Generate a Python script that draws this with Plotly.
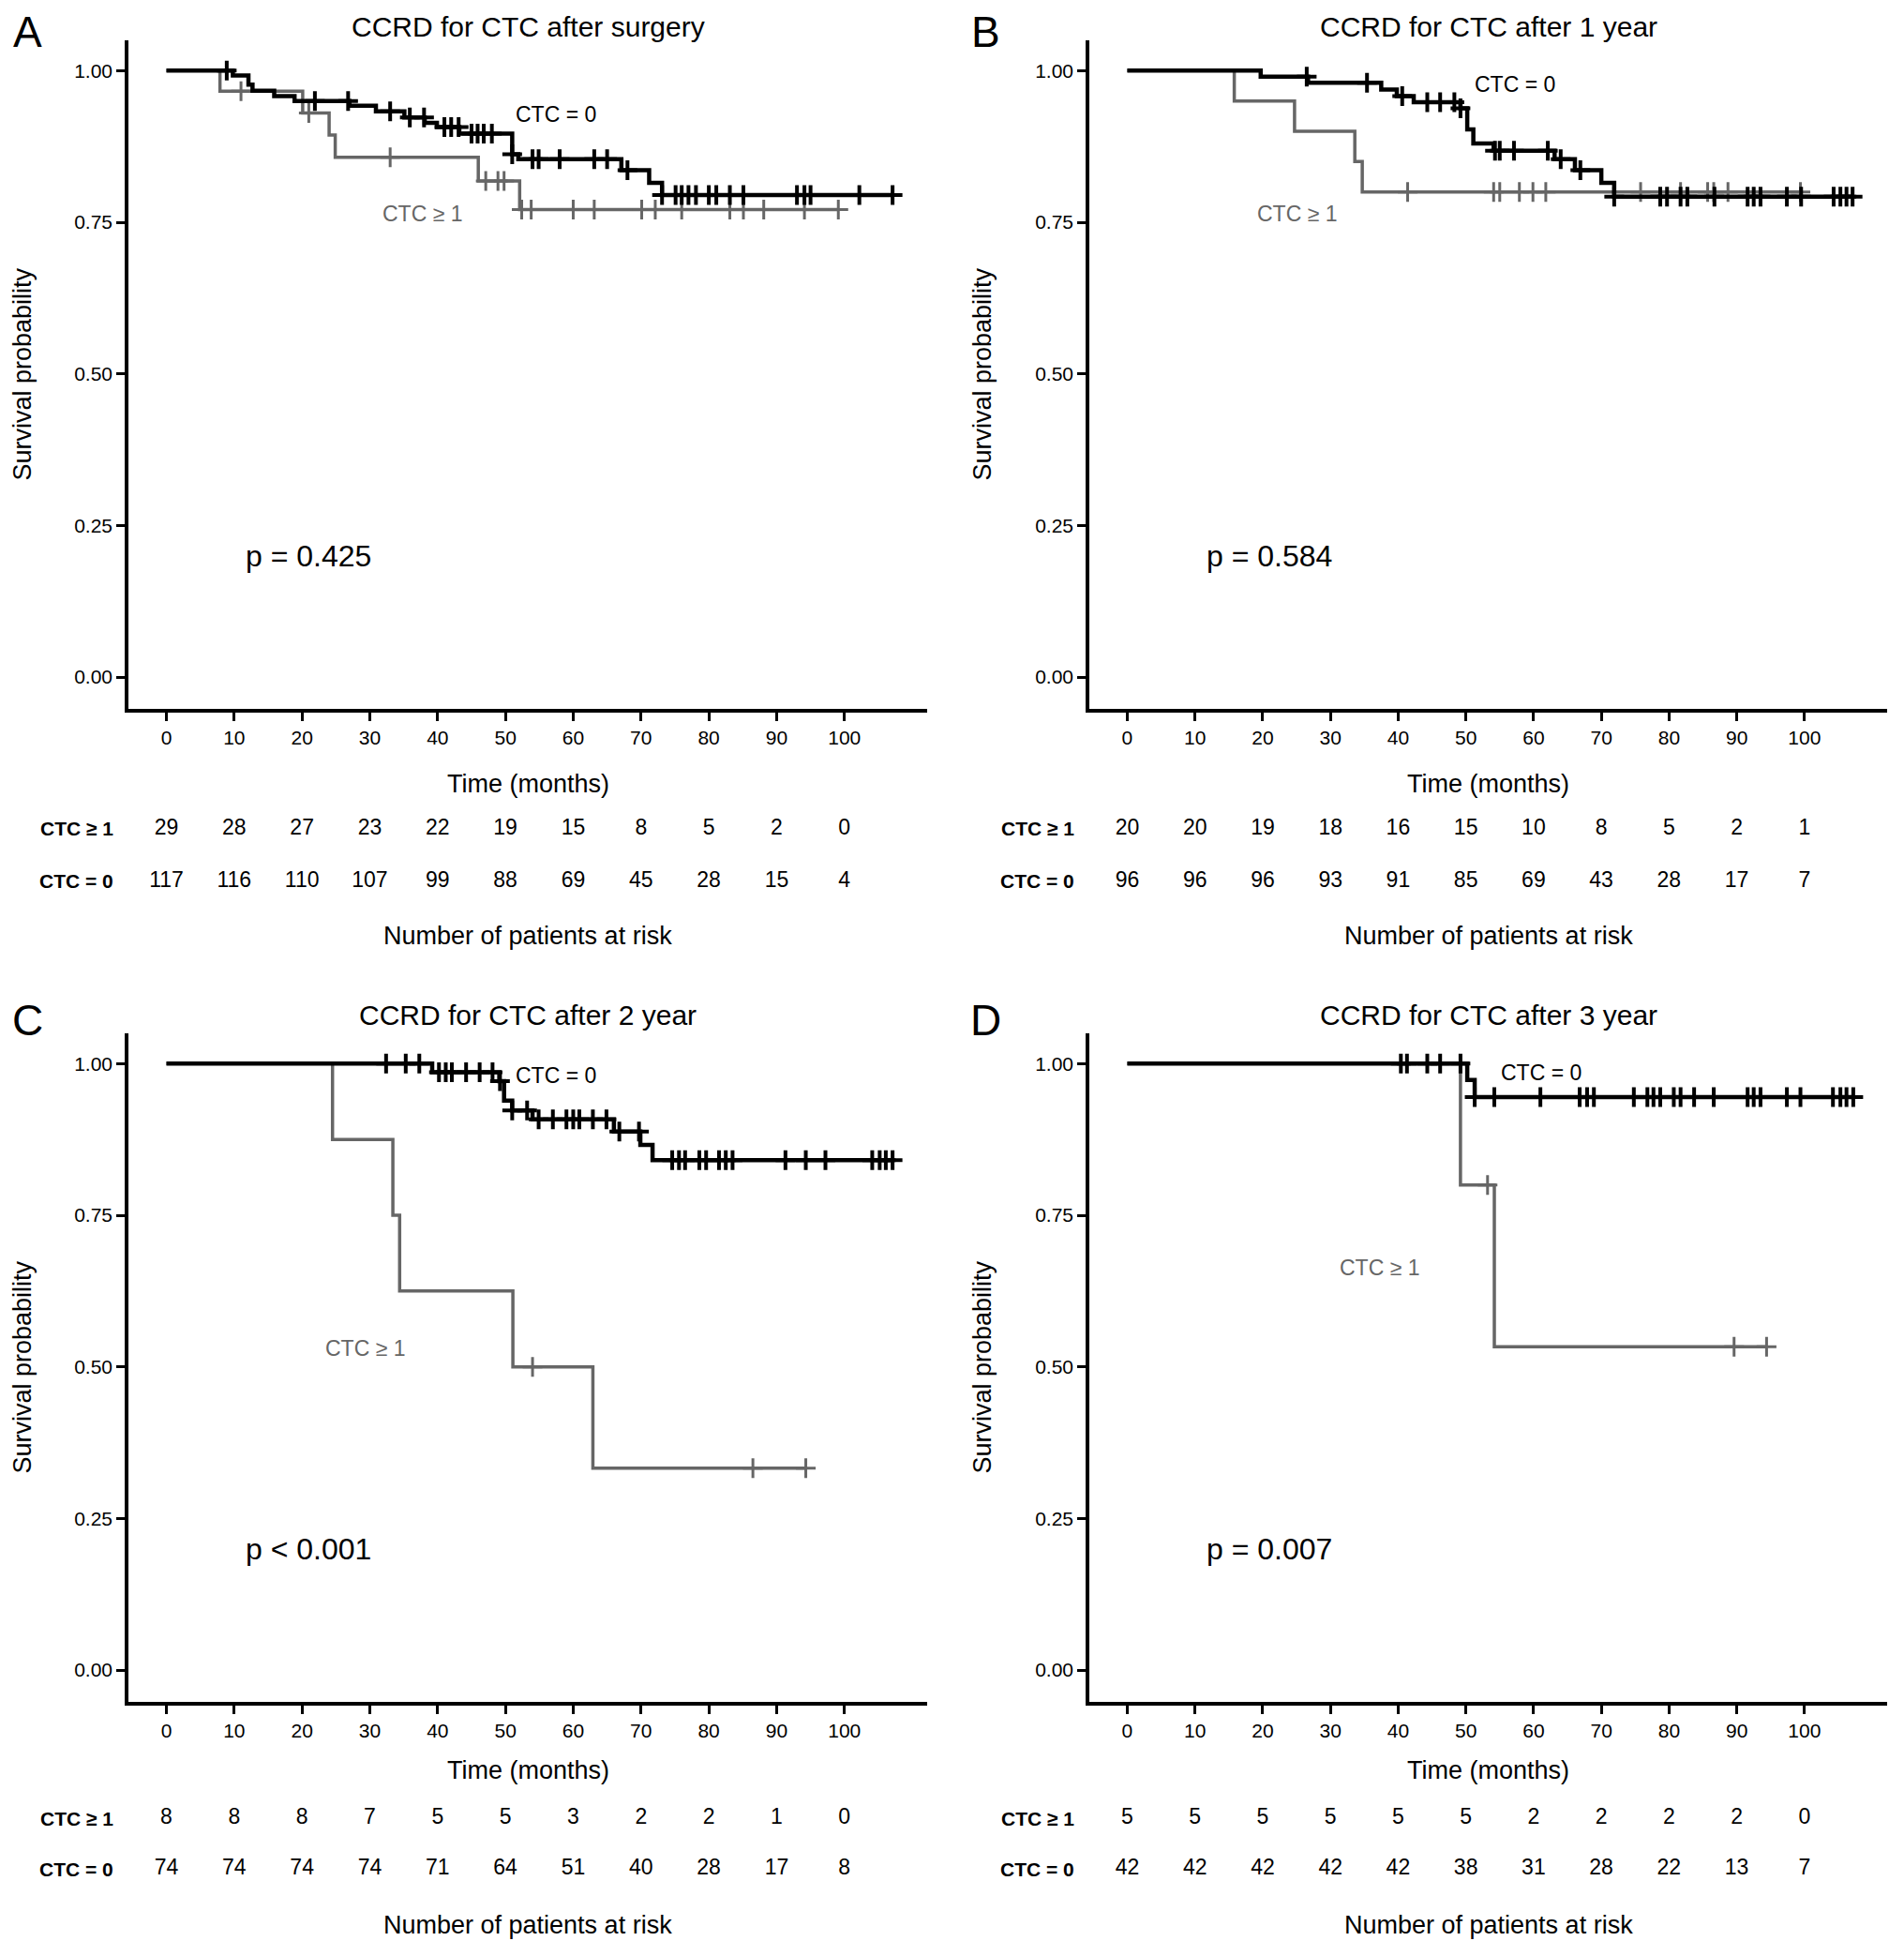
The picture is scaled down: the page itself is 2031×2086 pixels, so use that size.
import plotly.graph_objects as go

# ---- data ----------------------------------------------------------------
ticks = [0, 10, 20, 30, 40, 50, 60, 70, 80, 90, 100]

# panel A : after surgery
a0_evt_t = [9.8, 12.1, 12.7, 15.9, 18.9, 27.0, 30.9, 35.1, 38.1, 39.9, 43.2, 51.0, 51.9, 67.1, 71.2, 73.1]
a0_evt_s = [0.992, 0.977, 0.967, 0.958, 0.950, 0.942, 0.933, 0.923, 0.914, 0.907, 0.896, 0.862, 0.854, 0.836, 0.815, 0.795]
a0_cens = [8.9, 21.9, 26.8, 33.0, 35.9, 38.0, 41.0, 42.0, 43.1, 45.0, 45.9, 46.8, 48.0, 51.0, 54.0, 54.9,
           58.0, 63.1, 65.0, 68.0, 73.1, 75.1, 76.0, 77.0, 78.1, 80.0, 81.1, 83.1, 85.1, 93.0, 94.1, 95.0,
           102.2, 107.1]
a1_evt_t = [7.9, 20.1, 24.0, 24.9, 46.0, 52.1]
a1_evt_s = [0.966, 0.930, 0.894, 0.857, 0.818, 0.771]
a1_cens = [11.0, 21.0, 33.0, 47.1, 48.9, 49.8, 52.4, 53.8, 60.0, 63.1, 70.1, 72.1, 76.0, 83.1, 85.1,
           88.1, 94.1, 99.1]
a_risk1 = [29, 28, 27, 23, 22, 19, 15, 8, 5, 2, 0]
a_risk0 = [117, 116, 110, 107, 99, 88, 69, 45, 28, 15, 4]

# panel B : after 1 year
b0_evt_t = [19.7, 26.7, 37.5, 39.8, 42.3, 49.2, 50.2, 51.1, 54.1, 63.1, 66.1, 70.0, 71.9]
b0_evt_s = [0.990, 0.980, 0.969, 0.958, 0.948, 0.938, 0.903, 0.880, 0.868, 0.854, 0.836, 0.815, 0.792]
b0_cens = [26.5, 35.4, 40.6, 44.3, 46.2, 48.3, 49.2, 54.3, 55.0, 57.1, 62.1, 64.0, 66.9, 71.9, 78.7,
           79.7, 81.7, 82.7, 86.7, 91.6, 92.5, 93.5, 97.4, 99.5, 104.3, 105.3, 106.2, 107.1]
b1_evt_t = [15.8, 24.7, 33.6, 34.7]
b1_evt_s = [0.95, 0.90, 0.85, 0.80]
b1_cens = [41.4, 54.1, 55.0, 57.9, 59.9, 61.8, 75.8, 81.7, 85.7, 86.6, 88.7, 99.4]
b_risk1 = [20, 20, 19, 18, 16, 15, 10, 8, 5, 2, 1]
b_risk0 = [96, 96, 96, 93, 91, 85, 69, 43, 28, 17, 7]

# panel C : after 2 year
c0_evt_t = [39.2, 49.1, 49.8, 51.0, 54.0, 66.0, 69.9, 71.7]
c0_evt_s = [0.986, 0.971, 0.939, 0.923, 0.908, 0.888, 0.866, 0.841]
c0_cens = [32.4, 35.3, 37.3, 40.2, 41.2, 42.1, 44.2, 46.2, 48.1, 49.2, 51.0, 53.2, 54.9, 57.0, 59.0,
           60.0, 60.9, 62.9, 64.9, 66.8, 69.7, 74.6, 75.6, 76.5, 78.6, 79.6, 81.5, 82.5, 83.5, 91.3,
           94.3, 97.2, 104.1, 105.2, 106.1, 107.1]
c1_evt_t = [24.5, 33.4, 34.4, 51.1, 62.9]
c1_evt_s = [0.875, 0.750, 0.625, 0.500, 0.333]
c1_cens = [54.0, 86.5, 94.3]
c_risk1 = [8, 8, 8, 7, 5, 5, 3, 2, 2, 1, 0]
c_risk0 = [74, 74, 74, 74, 71, 64, 51, 40, 28, 17, 8]

# panel D : after 3 year
d0_evt_t = [50.2, 51.3]
d0_evt_s = [0.973, 0.945]
d0_cens = [40.4, 41.3, 44.3, 46.2, 49.2, 51.3, 54.2, 61.0, 66.8, 67.9, 68.9, 74.8, 76.8, 77.7, 78.7,
           80.7, 81.7, 83.7, 86.6, 91.6, 92.5, 93.5, 97.4, 99.4, 104.2, 105.3, 106.2, 107.2]
d1_evt_t = [49.2, 54.2]
d1_evt_s = [0.800, 0.533]
d1_cens = [53.2, 89.6, 94.4]
d_risk1 = [5, 5, 5, 5, 5, 5, 2, 2, 2, 2, 0]
d_risk0 = [42, 42, 42, 42, 42, 38, 31, 28, 22, 13, 7]

titles = ["CCRD for CTC after surgery", "CCRD for CTC after 1 year",
          "CCRD for CTC after 2 year", "CCRD for CTC after 3 year"]
letters = ["A", "B", "C", "D"]
pvals = ["p = 0.425", "p = 0.584", "p < 0.001", "p = 0.007"]
# label positions (time, survival) for CTC = 0 and CTC >= 1
lab0_pos = [(57.4, 0.928), (57.3, 0.978), (57.4, 0.981), (61.1, 0.985)]
lab1_pos = [(37.8, 0.764), (25.1, 0.764), (29.3, 0.531), (37.3, 0.663)]

panels = [
    (a0_evt_t, a0_evt_s, a0_cens, a1_evt_t, a1_evt_s, a1_cens, a_risk1, a_risk0),
    (b0_evt_t, b0_evt_s, b0_cens, b1_evt_t, b1_evt_s, b1_cens, b_risk1, b_risk0),
    (c0_evt_t, c0_evt_s, c0_cens, c1_evt_t, c1_evt_s, c1_cens, c_risk1, c_risk0),
    (d0_evt_t, d0_evt_s, d0_cens, d1_evt_t, d1_evt_s, d1_cens, d_risk1, d_risk0),
]

BLACK = "#000000"
GREY = "#666666"
FONT = "Liberation Sans, Arial, sans-serif"
PAD = 8  # default page margin around the plot div
W, H = 2031 - 2 * PAD, 2086 - 2 * PAD


def surv_at(t, evt_t, evt_s):
    s = 1.0
    for et, es in zip(evt_t, evt_s):
        if et <= t:
            s = es
    return s


def km_traces(evt_t, evt_s, cens, color, width, xa, ya):
    end = max(cens + evt_t)
    xs = [0] + evt_t + [end]
    ys = [1.0] + evt_s + [evt_s[-1]]
    line = go.Scatter(x=xs, y=ys, mode="lines", line=dict(color=color, width=width, shape="hv"),
                      xaxis=xa, yaxis=ya, showlegend=False, hoverinfo="skip")
    marks = go.Scatter(x=cens, y=[surv_at(c, evt_t, evt_s) for c in cens], mode="markers",
                       marker=dict(symbol="cross-thin", size=15, color=color,
                                   line=dict(color=color, width=width - 0.5)),
                       xaxis=xa, yaxis=ya, showlegend=False, hoverinfo="skip")
    return [line, marks]


# layout geometry in window pixels (left, right) and (top, bottom)
col_px = [(137, 989), (1162, 2013)]
row_px = [(43, 756), (1102, 1815)]
risk_px = [(856, 968), (1912, 2020)]
title_y = [29, 1082]
xtitle_y = [836, 1888]
risk_title_y = [998, 2053]
ylab_x = [24, 1048]
letter_x = [29, 1051]
letter_y = [34, 1088]


def px_x(p):
    return (p - PAD) / W


def px_y(p):
    return 1 - (p - PAD) / H


def note(text, x, y, size, xref="paper", yref="paper", color=BLACK, **kw):
    return dict(text=text, x=x, y=y, xref=xref, yref=yref, showarrow=False,
                xanchor=kw.pop("xanchor", "center"), yanchor="middle",
                font=dict(size=size, color=color, family=FONT), **kw)


fig = go.Figure()
annotations = []
layout_axes = {}

for i, pnl in enumerate(panels):
    r, c = divmod(i, 2)
    k = i + 1
    xa = "x" if k == 1 else f"x{k}"
    ya = "y" if k == 1 else f"y{k}"
    yr = f"y{k + 4}"
    e0t, e0s, c0, e1t, e1s, c1, risk1, risk0 = pnl

    for tr in km_traces(e1t, e1s, c1, GREY, 3.5, xa, ya):
        fig.add_trace(tr)
    for tr in km_traces(e0t, e0s, c0, BLACK, 4.5, xa, ya):
        fig.add_trace(tr)

    # risk table
    for yy, vals in ((2, risk1), (1, risk0)):
        fig.add_trace(go.Scatter(x=ticks, y=[yy] * len(ticks), text=[str(v) for v in vals], mode="text",
                                 textfont=dict(size=23, color=BLACK, family=FONT), xaxis=xa, yaxis=yr,
                                 showlegend=False, hoverinfo="skip", cliponaxis=False))

    xd = [px_x(col_px[c][0]), px_x(col_px[c][1])]
    yd = [px_y(row_px[r][1]), px_y(row_px[r][0])]
    rd = [px_y(risk_px[r][1]), px_y(risk_px[r][0])]
    axkey = "xaxis" if k == 1 else f"xaxis{k}"
    aykey = "yaxis" if k == 1 else f"yaxis{k}"
    layout_axes[axkey] = dict(domain=xd, anchor=ya, range=[-5.6, 112.2], tickvals=ticks,
                              showline=True, linecolor=BLACK, linewidth=3.5, ticks="outside",
                              ticklen=9, tickwidth=3, tickcolor=BLACK, showgrid=False, zeroline=False,
                              tickfont=dict(size=21, color=BLACK, family=FONT))
    layout_axes[aykey] = dict(domain=yd, anchor=xa, range=[-0.0525, 1.05],
                              tickvals=[0, 0.25, 0.5, 0.75, 1.0], tickformat=".2f",
                              showline=True, linecolor=BLACK, linewidth=3.5, ticks="outside",
                              ticklen=9, tickwidth=3, tickcolor=BLACK, showgrid=False, zeroline=False,
                              tickfont=dict(size=21, color=BLACK, family=FONT))
    layout_axes[f"yaxis{k + 4}"] = dict(domain=rd, anchor=xa, range=[0.5, 2.5], visible=False)

    xc = (xd[0] + xd[1]) / 2
    yc = (yd[0] + yd[1]) / 2
    annotations += [
        note(titles[i], xc, px_y(title_y[r]), 30),
        note(letters[i], px_x(letter_x[c]), px_y(letter_y[r]), 46),
        note("Survival probability", px_x(ylab_x[c]), yc, 27, textangle=-90),
        note("Time (months)", xc, px_y(xtitle_y[r]), 27),
        note("Number of patients at risk", xc, px_y(risk_title_y[r]), 27),
        note("<b>CTC ≥ 1</b>", px_x(col_px[c][0] - 14), 2, 21, yref=yr, xanchor="right"),
        note("<b>CTC = 0</b>", px_x(col_px[c][0] - 14), 1, 21, yref=yr, xanchor="right"),
        note(pvals[i], 21, 0.2, 32, xref=xa, yref=ya),
        note("CTC = 0", lab0_pos[i][0], lab0_pos[i][1], 23, xref=xa, yref=ya),
        note("CTC ≥ 1", lab1_pos[i][0], lab1_pos[i][1], 23, xref=xa, yref=ya, color=GREY),
    ]

fig.update_layout(width=W, height=H, margin=dict(l=0, r=0, t=0, b=0),
                  paper_bgcolor="white", plot_bgcolor="white", showlegend=False,
                  font=dict(family=FONT, color=BLACK), annotations=annotations, **layout_axes)

fig.write_html("out.html")
